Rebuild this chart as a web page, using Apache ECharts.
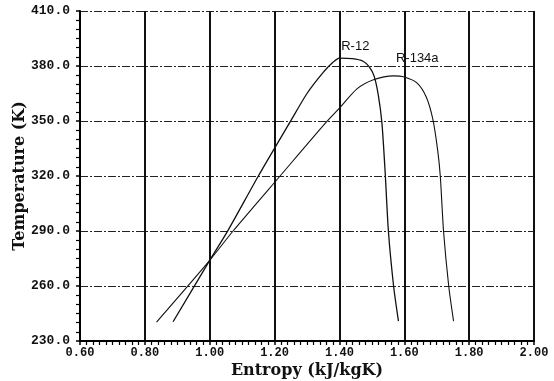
<!DOCTYPE html>
<html>
<head>
<meta charset="utf-8">
<script src="https://cdn.jsdelivr.net/npm/echarts@6/dist/echarts.min.js"></script>
<style>
  html, body { margin: 0; padding: 0; background: #fff; }
  #chart { width: 554px; height: 381px; }
</style>
</head>
<body>
<div id="chart"></div>
<script>
// Saturation dome points: [entropy kJ/kgK, temperature K]
const r12 = [
  [0.887, 240.5], [1.000, 274.0], [1.057, 290.5], [1.150, 320.0], [1.248, 349.5],
  [1.300, 365.0], [1.350, 376.5], [1.380, 382.0], [1.400, 384.3], [1.440, 384.0],
  [1.473, 382.6], [1.492, 379.5], [1.507, 374.5], [1.520, 364.0], [1.531, 349.0],
  [1.541, 322.0], [1.551, 290.0], [1.567, 260.0], [1.582, 240.8]
];
const r134a = [
  [0.836, 240.3], [1.000, 274.0], [1.072, 290.0], [1.217, 320.0], [1.360, 349.5],
  [1.400, 357.0], [1.454, 367.5], [1.505, 372.5], [1.567, 374.6], [1.600, 374.0],
  [1.639, 370.8], [1.668, 363.0], [1.688, 351.0], [1.703, 334.0], [1.711, 320.0],
  [1.721, 290.0], [1.737, 260.0], [1.752, 240.8]
];
const seriesNames = ['R-12', 'R-134a'];
const labelSpots = [[1.449, 390.6], [1.640, 384.1]];
const xRange = [0.6, 2.0];
const yRange = [230, 410];

const tickFont = { fontFamily: 'Liberation Mono', fontWeight: 'bold', color: '#111' };
const nameFont = { fontFamily: 'DejaVu Serif', fontWeight: 'bold', fontSize: 16, color: '#111' };
const curveFont = { fontFamily: 'Liberation Sans', fontSize: 13, color: '#111' };

function curve(idx, data, width) {
  return {
    name: seriesNames[idx], type: 'line', data: data, showSymbol: false,
    smooth: 0.25,
    lineStyle: { color: '#111', width: width },
    markPoint: {
      symbol: 'circle', symbolSize: 1, itemStyle: { color: 'rgba(0,0,0,0)' },
      label: Object.assign({ show: true, formatter: seriesNames[idx], position: 'inside' }, curveFont),
      data: [{ coord: labelSpots[idx] }]
    }
  };
}

const chart = echarts.init(document.getElementById('chart'), null, { renderer: 'canvas' });
chart.setOption({
  animation: false,
  backgroundColor: '#fff',
  grid: { left: 80, right: 20, top: 11, bottom: 40, outerBoundsMode: 'none', containLabel: false },
  xAxis: {
    type: 'value', min: xRange[0], max: xRange[1], interval: 0.2,
    name: 'Entropy (kJ/kgK)', nameLocation: 'middle', nameGap: 22, nameMoveOverlap: false,
    nameTextStyle: nameFont,
    axisLine: { show: true, onZero: false, lineStyle: { color: '#000', width: 2 } },
    axisTick: { show: true, inside: false, length: 4, lineStyle: { color: '#000', width: 1.5 } },
    minorTick: { show: true, splitNumber: 10, length: 4, lineStyle: { color: '#000', width: 1.2 } },
    axisLabel: Object.assign({ margin: 6, fontSize: 12, formatter: v => v.toFixed(2) }, tickFont),
    splitLine: { show: true, lineStyle: { color: '#111', width: 2, type: 'solid' } }
  },
  yAxis: {
    type: 'value', min: yRange[0], max: yRange[1], interval: 30,
    name: 'Temperature (K)', nameLocation: 'middle', nameGap: 52, nameMoveOverlap: false,
    nameTextStyle: nameFont,
    axisLine: { show: true, onZero: false, lineStyle: { color: '#000', width: 2 } },
    axisTick: { show: true, inside: false, length: 4, lineStyle: { color: '#000', width: 1.5 } },
    minorTick: { show: true, splitNumber: 6, length: 4, lineStyle: { color: '#000', width: 1.2 } },
    axisLabel: Object.assign({ margin: 10, fontSize: 13, formatter: v => v.toFixed(1) }, tickFont),
    splitLine: { show: true, lineStyle: { color: '#222', width: 1, type: [8, 2, 2, 2] } }
  },
  series: [curve(0, r12, 1.3), curve(1, r134a, 1.1)]
});
</script>
</body>
</html>
